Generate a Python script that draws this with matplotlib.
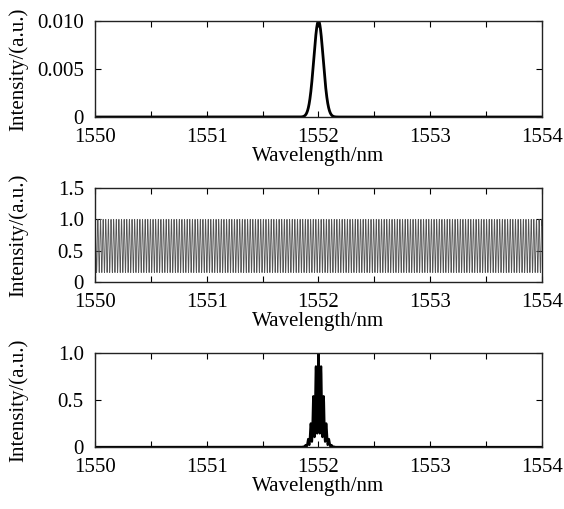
import numpy as np
import matplotlib
matplotlib.use('Agg')
import matplotlib.pyplot as plt
from matplotlib.ticker import MultipleLocator, FixedLocator

# values
wl_range = [1550, 1554]
x_ticks = [1550, 1551, 1552, 1553, 1554]
x_tick_labels = ['1550', '1551', '1552', '1553', '1554']

source_center = 1552.0      # nm
source_sigma = 0.042        # nm
source_peak = 0.010

comb_period = 0.0235        # nm, fringe spacing
comb_min = 0.15
comb_max = 1.0

top_yticks = [0, 0.005, 0.010]
top_ylabels = ['0', '0.005', '0.010']
mid_yticks = [0, 0.5, 1.0, 1.5]
mid_ylabels = ['0', '0.5', '1.0', '1.5']
bot_yticks = [0, 0.5, 1.0]
bot_ylabels = ['0', '0.5', '1.0']

plt.rcParams['font.family'] = ['Liberation Serif', 'DejaVu Serif']
plt.rcParams['font.size'] = 15


def spectra():
    wl = np.linspace(wl_range[0], wl_range[1], 40001)
    source = source_peak * np.exp(-(wl - source_center)**2 / (2 * source_sigma**2))
    mid = (comb_max + comb_min) / 2
    amp = (comb_max - comb_min) / 2
    comb = mid + amp * np.cos(2 * np.pi * (wl - source_center) / comb_period)
    out = source * comb
    out = out / out.max()
    return wl, source, comb, out


def style_axes(ax, yticks, ylabels, ylim):
    ax.set_xlim(wl_range)
    ax.set_ylim(ylim)
    ax.xaxis.set_major_locator(FixedLocator(x_ticks))
    ax.set_xticklabels(x_tick_labels)
    ax.xaxis.set_minor_locator(MultipleLocator(0.5))
    ax.set_yticks(yticks)
    ax.set_yticklabels(ylabels)
    ax.tick_params(which='both', direction='in', top=True, right=True,
                   length=4, width=0.8, labelsize=15)
    ax.tick_params(axis='x', which='major', pad=8)
    ax.tick_params(axis='y', which='major', pad=8)
    for s in ax.spines.values():
        s.set_linewidth(1.0)
        s.set_color('#222222')
    ax.set_xlabel('Wavelength/nm', fontsize=15, labelpad=0)
    ax.set_ylabel('Intensity/(a.u.)', fontsize=15)


def main():
    wl, source, comb, out = spectra()
    fig = plt.figure(figsize=(5.64, 5.09), dpi=100)
    left, width = 0.1684, 0.7926

    ax1 = fig.add_axes([left, 0.7701, width, 0.1886])
    ax1.plot(wl, source, color='black', lw=2.0)
    style_axes(ax1, top_yticks, top_ylabels, (0, 0.010))

    ax2 = fig.add_axes([left, 0.446, width, 0.1847])
    ax2.plot(wl, comb, color='#555555', lw=0.6)
    style_axes(ax2, mid_yticks, mid_ylabels, (0, 1.5))

    ax3 = fig.add_axes([left, 0.1218, width, 0.1847])
    ax3.plot(wl, out, color='black', lw=1.6)
    style_axes(ax3, bot_yticks, bot_ylabels, (0, 1.0))

    for ax in (ax1, ax2, ax3):
        ax.yaxis.set_label_coords(-0.15, 0.5)

    fig.savefig('out.png', dpi=100)


if __name__ == '__main__':
    main()
